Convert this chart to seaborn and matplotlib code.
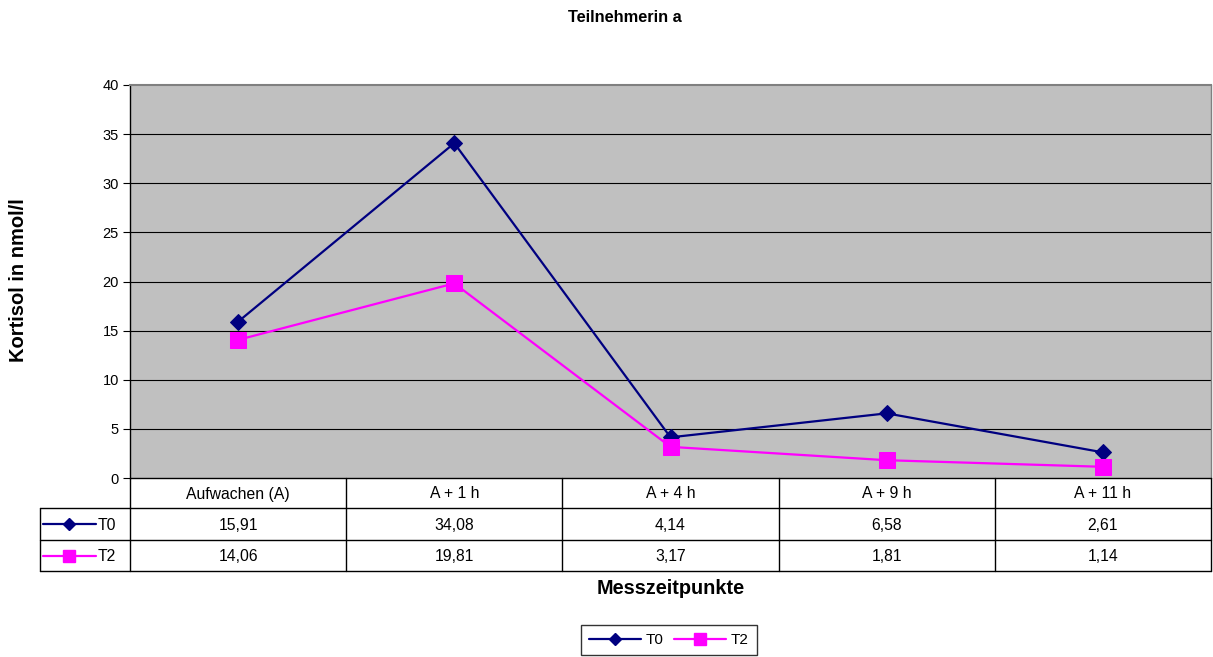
import numpy as np
import pandas as pd
import matplotlib
matplotlib.use("Agg")
import matplotlib.pyplot as plt
import seaborn as sns
from matplotlib.lines import Line2D

categories = ["Aufwachen (A)", "A + 1 h", "A + 4 h", "A + 9 h", "A + 11 h"]
t0_values = [15.91, 34.08, 4.14, 6.58, 2.61]
t2_values = [14.06, 19.81, 3.17, 1.81, 1.14]
series_names = ["T0", "T2"]
y_ticks = [0, 5, 10, 15, 20, 25, 30, 35, 40]

sns.set_theme(style="white")
plt.rcParams['font.family'] = ['Liberation Sans', 'DejaVu Sans']
plt.rcParams['text.color'] = 'black'
plt.rcParams['axes.labelcolor'] = 'black'
plt.rcParams['xtick.color'] = 'black'
plt.rcParams['ytick.color'] = 'black'

W, H = 1213, 657
fig = plt.figure(figsize=(W / 100, H / 100), dpi=100)

def fx(px):
    return px / W

def fy(py):
    return 1 - py / H

ax_l, ax_r, ax_t, ax_b = 130, 1211, 85, 478
ax = fig.add_axes([fx(ax_l), fy(ax_b), fx(ax_r - ax_l), fy(ax_t) - fy(ax_b)])

df = pd.DataFrame({
    "pos": list(range(len(categories))) * 2,
    "value": t0_values + t2_values,
    "series": [series_names[0]] * len(categories) + [series_names[1]] * len(categories),
})
colors = {"T0": "#000080", "T2": "#FF00FF"}
markers = {"T0": "D", "T2": "s"}
sizes = {"T0": 8, "T2": 11.5}
small_sizes = {"T0": 6.5, "T2": 8.5}

for name in series_names:
    sub = df[df["series"] == name]
    sns.lineplot(data=sub, x="pos", y="value", ax=ax, color=colors[name],
                 marker=markers[name], markersize=sizes[name],
                 markeredgecolor=colors[name], linewidth=1.6, legend=False)

ax.set_facecolor("#C0C0C0")
ax.set_xlim(-0.5, len(categories) - 0.5)
ax.set_ylim(0, 40)
ax.set_yticks(y_ticks)
ax.set_yticklabels([str(t) for t in y_ticks], fontsize=10.5, color="black")
ax.set_xticks([])
ax.set_xlabel("")
ax.set_ylabel("")
for y in y_ticks[1:-1]:
    ax.axhline(y, color="black", linewidth=0.8, zorder=0.5)
ax.tick_params(axis="y", direction="out", length=5, width=0.8, color="black", pad=3, left=True)
ax.spines["left"].set_color("black")
ax.spines["left"].set_linewidth(1.0)
ax.spines["top"].set_color("#808080")
ax.spines["top"].set_linewidth(1.5)
ax.spines["right"].set_color("#808080")
ax.spines["right"].set_linewidth(1.0)
ax.spines["bottom"].set_visible(False)

# Data table
tab_l, tab_r = 40, 1211
rows_y = [478, 508, 540, 571]
tax = fig.add_axes([0, 0, 1, 1], facecolor="none")
tax.set_xlim(0, W)
tax.set_ylim(H, 0)
tax.axis("off")

col_w = (ax_r - ax_l) / len(categories)
lc = "black"
lw = 1.0
tax.plot([ax_l, tab_r], [rows_y[0], rows_y[0]], color=lc, lw=lw)
tax.plot([tab_l, tab_r], [rows_y[1], rows_y[1]], color=lc, lw=lw)
tax.plot([tab_l, tab_r], [rows_y[2], rows_y[2]], color=lc, lw=lw)
tax.plot([tab_l, tab_r], [rows_y[3], rows_y[3]], color=lc, lw=lw)
tax.plot([tab_l, tab_l], [rows_y[1], rows_y[3]], color=lc, lw=lw)
for i in range(len(categories) + 1):
    x = ax_l + i * col_w
    tax.plot([x, x], [rows_y[0], rows_y[3]], color=lc, lw=lw)

fs = 11.3
for i, cat in enumerate(categories):
    cx = ax_l + (i + 0.5) * col_w
    tax.text(cx, (rows_y[0] + rows_y[1]) / 2 + 1, cat, ha="center", va="center", fontsize=fs)
    tax.text(cx, (rows_y[1] + rows_y[2]) / 2 + 1, f"{t0_values[i]:.2f}".replace(".", ","),
             ha="center", va="center", fontsize=fs)
    tax.text(cx, (rows_y[2] + rows_y[3]) / 2 + 1, f"{t2_values[i]:.2f}".replace(".", ","),
             ha="center", va="center", fontsize=fs)

for r, name in enumerate(series_names):
    cy = (rows_y[r + 1] + rows_y[r + 2]) / 2
    tax.plot([43, 96], [cy, cy], color=colors[name], lw=1.6)
    tax.plot([69], [cy], marker=markers[name], color=colors[name],
             markersize=small_sizes[name], markeredgecolor=colors[name])
    tax.text(98, cy + 1, name, ha="left", va="center", fontsize=fs)

fig.text(fx(625), fy(18), "Teilnehmerin a", ha="center", va="center",
         fontsize=11.8, fontweight="bold")
fig.text(fx(671), fy(588), "Messzeitpunkte", ha="center", va="center",
         fontsize=14.3, fontweight="bold")
fig.text(fx(19), fy(280), "Kortisol in nmol/l", ha="center", va="center",
         fontsize=14.5, fontweight="bold", rotation=90)

handles = [Line2D([0], [0], color=colors[n], marker=markers[n], markersize=small_sizes[n],
                  markeredgecolor=colors[n], lw=1.6) for n in series_names]
leg = fig.legend(handles, series_names, loc="center", bbox_to_anchor=(fx(669), fy(640)),
                 ncol=2, frameon=True, fontsize=11, fancybox=False, handlelength=3.4,
                 columnspacing=0.7, handletextpad=0.3, borderpad=0.55, borderaxespad=0)
leg.get_frame().set_edgecolor("black")
leg.get_frame().set_linewidth(1.0)

fig.savefig("out.png", dpi=100, facecolor="white")
